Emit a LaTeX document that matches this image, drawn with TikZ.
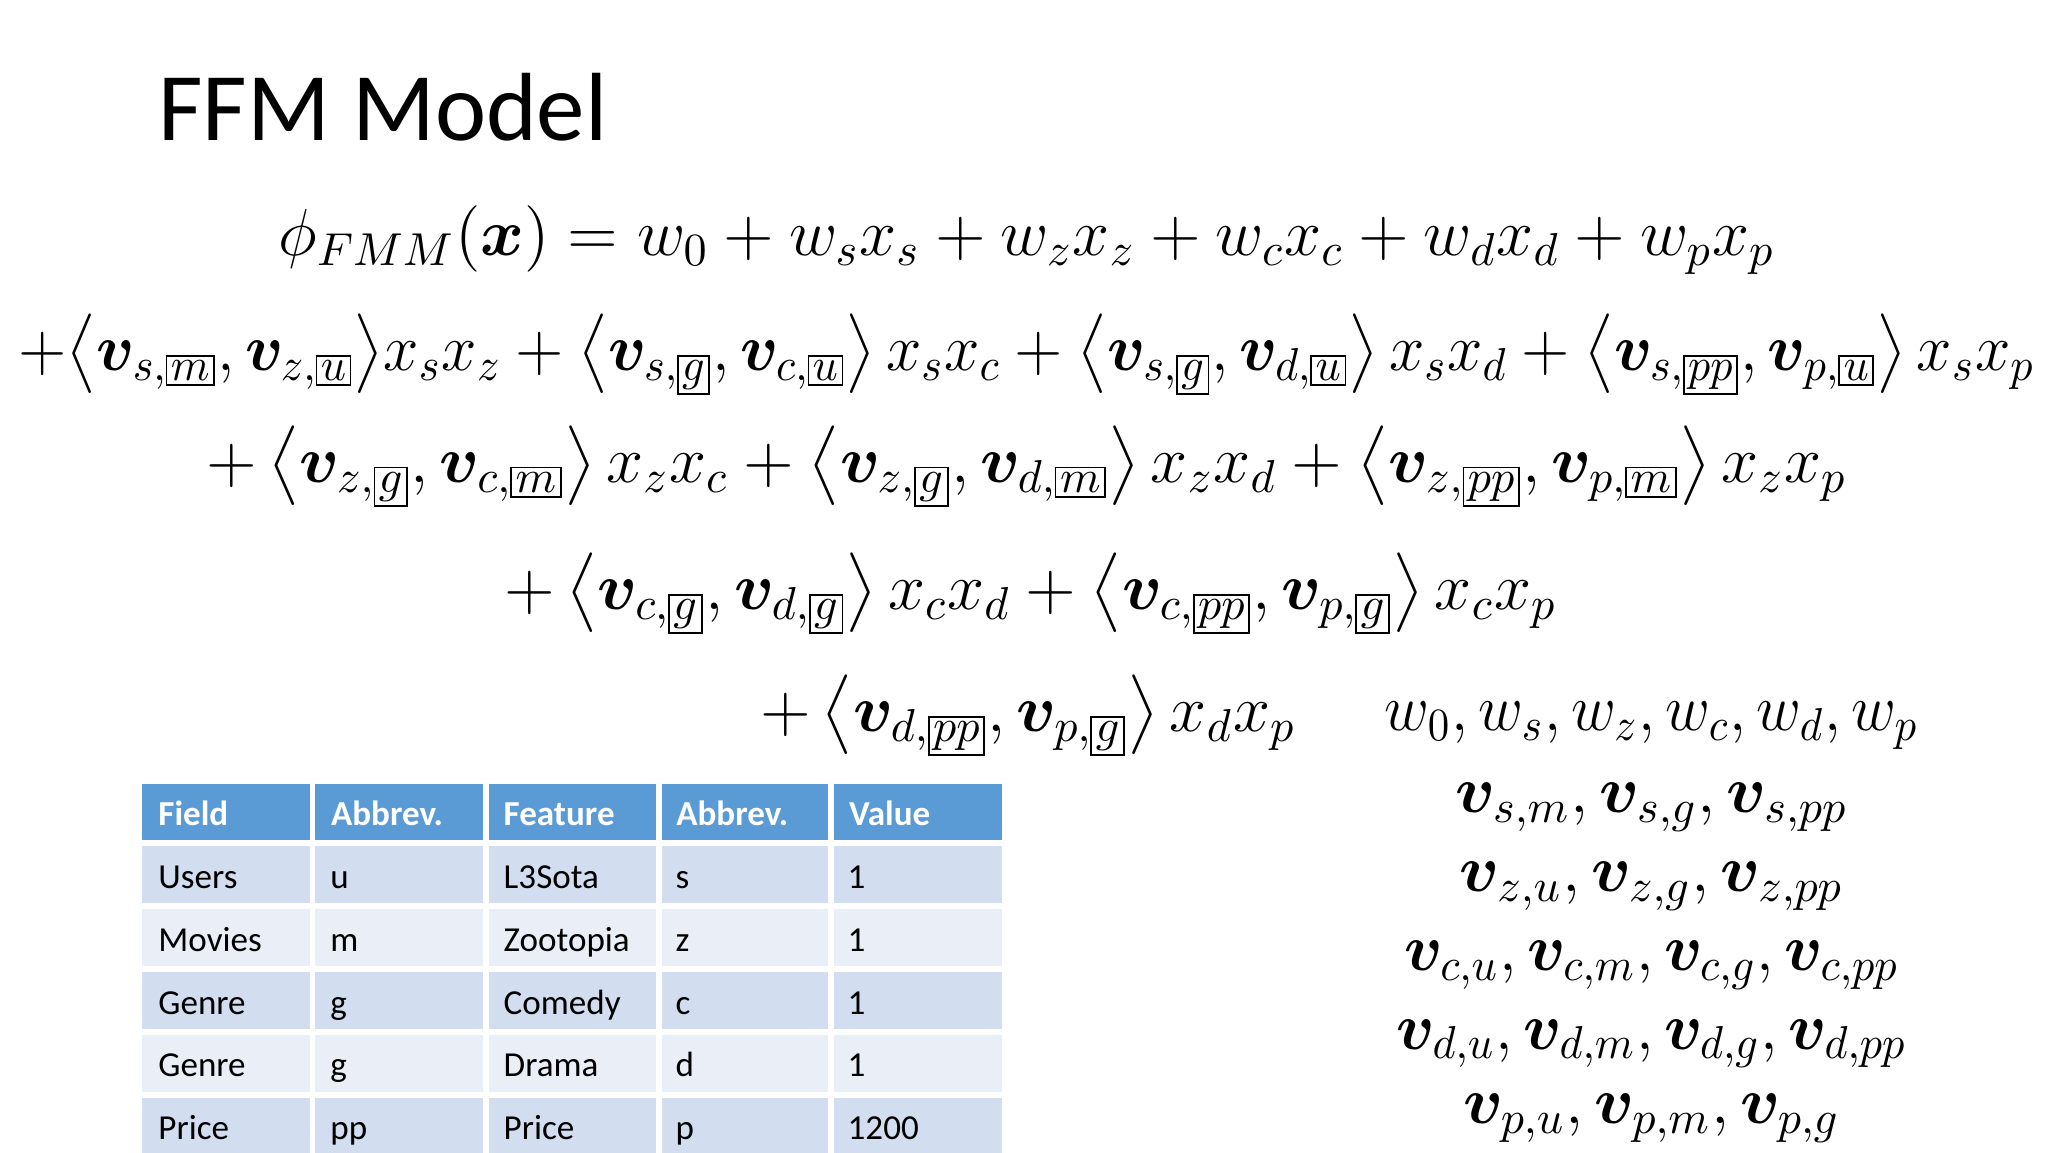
\documentclass[tikz,border=0pt]{standalone}
\usepackage{amsmath,bm}
\usepackage{fontspec}
\setmainfont{Carlito}
\usetikzlibrary{positioning}
\newcommand{\bx}[1]{{\setlength{\fboxsep}{0.8pt}\fbox{$\scriptstyle #1$}}}
\newcommand{\vv}{\bm{v}}
\definecolor{hdr}{HTML}{5B9BD5}
\definecolor{rowa}{HTML}{D2DEEF}
\definecolor{rowb}{HTML}{EAEFF7}
\tikzset{eq/.style={inner sep=0pt,font=\fontsize{14.5}{16}\selectfont},
 cell/.style={anchor=base west,inner sep=0pt,font=\fontsize{7.6}{9}\selectfont},
 hcell/.style={cell,text=white,font=\fontsize{7.6}{9}\selectfont\bfseries}}
\begin{document}
\begin{tikzpicture}[yscale=-1]
\useasboundingbox (0,0) rectangle (15.6,8.775);
\node[anchor=west,inner sep=0pt,font=\fontsize{21}{24}\selectfont] (title) at (1.2,0.82) {FFM Model};
\node[eq] (l1) at (7.82,1.83) {$\phi_{FMM}(\bm{x}) = w_0 + w_sx_s + w_zx_z + w_cx_c + w_dx_d + w_px_p$};
\node[eq] (l2) at (7.82,2.7) {\scalebox{0.955}[1]{$+\big\langle \vv_{s,\bx{m}},\vv_{z,\bx{u}}\big\rangle x_sx_z + \left\langle \vv_{s,\bx{g}},\vv_{c,\bx{u}}\right\rangle x_sx_c + \left\langle \vv_{s,\bx{g}},\vv_{d,\bx{u}}\right\rangle x_sx_d + \left\langle \vv_{s,\bx{pp}},\vv_{p,\bx{u}}\right\rangle x_sx_p$}};
\node[eq] (l3) at (7.82,3.55) {$+\left\langle \vv_{z,\bx{g}},\vv_{c,\bx{m}}\right\rangle x_zx_c + \left\langle \vv_{z,\bx{g}},\vv_{d,\bx{m}}\right\rangle x_zx_d + \left\langle \vv_{z,\bx{pp}},\vv_{p,\bx{m}}\right\rangle x_zx_p$};
\node[eq] (l4) at (7.85,4.52) {$+\left\langle \vv_{c,\bx{g}},\vv_{d,\bx{g}}\right\rangle x_cx_d + \left\langle \vv_{c,\bx{pp}},\vv_{p,\bx{g}}\right\rangle x_cx_p$};
\node[eq] (l5) at (7.83,5.45) {$+\left\langle \vv_{d,\bx{pp}},\vv_{p,\bx{g}}\right\rangle x_dx_p$};
\node[eq] (r1) at (12.58,5.53) {\scalebox{0.93}[1]{$w_0,w_s,w_z,w_c,w_d,w_p$}};
\node[eq] (r2) at (12.58,6.15) {$\vv_{s,m},\vv_{s,g},\vv_{s,pp}$};
\node[eq] (r3) at (12.58,6.75) {$\vv_{z,u},\vv_{z,g},\vv_{z,pp}$};
\node[eq] (r4) at (12.58,7.35) {\scalebox{0.96}[1]{$\vv_{c,u},\vv_{c,m},\vv_{c,g},\vv_{c,pp}$}};
\node[eq] (r5) at (12.58,7.95) {\scalebox{0.96}[1]{$\vv_{d,u},\vv_{d,m},\vv_{d,g},\vv_{d,pp}$}};
\node[eq] (r6) at (12.58,8.52) {$\vv_{p,u},\vv_{p,m},\vv_{p,g}$};
% table
\fill[hdr] (1.08,5.97) rectangle (7.63,6.42);
\foreach \i/\c in {0/rowa,1/rowb,2/rowa,3/rowb,4/rowa}
  \fill[\c] (1.08,6.42+0.48*\i) rectangle (7.63,6.90+0.48*\i);
\foreach \y in {6.42,6.90,7.38,7.86,8.34} \draw[white,line width=1.2pt] (1.08,\y) -- (7.63,\y);
\foreach \x in {2.38,3.70,5.02,6.33} \draw[white,line width=1.2pt] (\x,5.97) -- (\x,8.82);
\foreach \t [count=\j from 0] in {Field,Abbrev.,Feature,Abbrev.,Value}
  \node[hcell] (h\j) at ({1.20+1.315*\j},6.29) {\t};
\foreach \a/\b/\c/\d/\e [count=\i from 0] in {Users/u/L3Sota/s/1,Movies/m/Zootopia/z/1,Genre/g/Comedy/c/1,Genre/g/Drama/d/1,Price/pp/Price/p/1200}{
  \node[cell] (c\i a) at (1.20,6.77+0.477*\i) {\a};
  \node[cell] (c\i b) at (2.51,6.77+0.477*\i) {\b};
  \node[cell] (c\i c) at (3.83,6.77+0.477*\i) {\c};
  \node[cell] (c\i d) at (5.14,6.77+0.477*\i) {\d};
  \node[cell] (c\i e) at (6.45,6.77+0.477*\i) {\e};
}
\end{tikzpicture}
\end{document}
